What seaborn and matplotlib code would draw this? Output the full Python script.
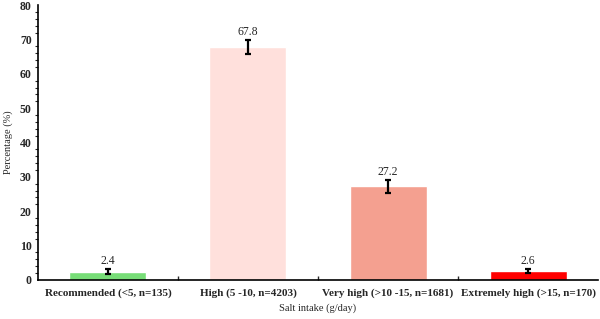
import numpy as np
import pandas as pd
import matplotlib
matplotlib.use("Agg")
import matplotlib.pyplot as plt
import seaborn as sns

# data
categories = ["Recommended (<5, n=135)", "High (5 -10, n=4203)",
              "Very high (>10 -15, n=1681)", "Extremely high (>15, n=170)"]
percent = [2.4, 67.8, 27.2, 2.6]
err = [0.7, 2.0, 1.9, 0.6]
bar_colors = ["#77dd77", "#ffe0dc", "#f4a090", "#ff0000"]

df = pd.DataFrame({"cat": categories, "pct": percent})

sns.set_style("white")
plt.rcParams["font.family"] = ["Liberation Serif", "DejaVu Serif"]

fig = plt.figure(figsize=(6, 3.19), dpi=100)
ax = fig.add_axes([0.0633, 0.1223, 0.9334, 0.862])

sns.barplot(data=df, x="cat", y="pct", hue="cat", palette=bar_colors,
            legend=False, width=0.55, ax=ax, errorbar=None, saturation=1)
ax.errorbar(range(len(percent)), percent, yerr=err, fmt="none",
            ecolor="black", elinewidth=1.6, capsize=2.5, capthick=1.6)

for i, v in enumerate(percent):
    ax.text(i, v + err[i] + 0.6, f"{v}", ha="center", va="bottom", fontsize=8.5)

ax.set_xlim(-0.5, 3.5)
ax.set_ylim(0, 80)
ax.set_yticks(range(0, 81, 10))
ax.set_yticks(np.arange(0, 81, 2), minor=True)
ax.set_xticks(np.arange(0.5, 3.5, 1), minor=True)
ax.tick_params(axis="y", which="major", direction="inout", length=5, width=1, labelsize=8.5, pad=2)
ax.tick_params(axis="y", which="minor", direction="out", length=2.5, width=0.8, left=True)
ax.tick_params(axis="x", which="major", direction="out", length=3, width=1, labelsize=8, pad=3)
ax.tick_params(axis="x", which="minor", direction="in", length=3, width=1, bottom=True)
for lab in ax.get_xticklabels() + ax.get_yticklabels():
    lab.set_fontweight("bold")

for s in ["top", "right"]:
    ax.spines[s].set_visible(False)
for s in ["left", "bottom"]:
    ax.spines[s].set_color("black")
    ax.spines[s].set_linewidth(1.2)

ax.set_xlabel("Salt intake (g/day)", fontsize=7.5, labelpad=4)
ax.set_ylabel("Percentage (%)", fontsize=7.5, labelpad=5)

fig.savefig("out.png", dpi=100)
